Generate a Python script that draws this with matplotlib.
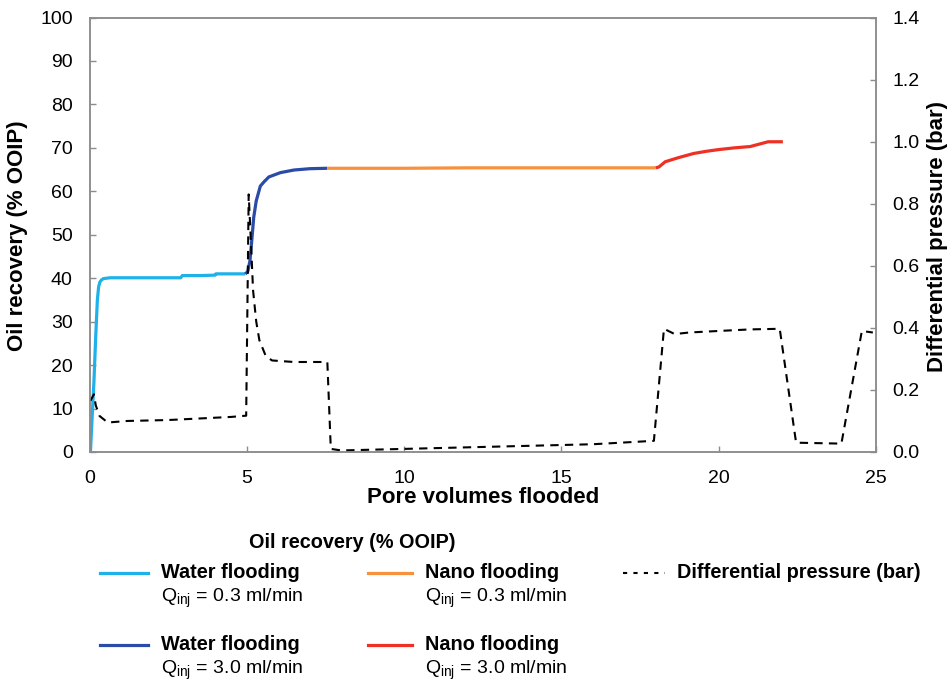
import matplotlib
matplotlib.use("Agg")
import matplotlib.pyplot as plt
from matplotlib.lines import Line2D
from matplotlib.ticker import FormatStrFormatter

plt.rcParams['font.family'] = ['Liberation Sans', 'DejaVu Sans']

# Oil recovery (% OOIP) by flooding stage
water_low_pv = [0.03, 0.08, 0.14, 0.20, 0.25, 0.29, 0.33, 0.38, 0.44, 0.65, 1.5, 2.5, 2.90, 2.95, 3.5, 3.99, 4.02, 4.5, 4.95]
water_low_rec = [0.0, 7.5, 16.0, 27.0, 35.0, 38.0, 39.1, 39.6, 39.9, 40.1, 40.1, 40.1, 40.1, 40.6, 40.6, 40.7, 41.0, 41.0, 41.0]

water_high_pv = [4.95, 5.03, 5.10, 5.15, 5.22, 5.30, 5.43, 5.55, 5.70, 6.07, 6.50, 7.00, 7.56]
water_high_rec = [41.0, 41.5, 44.0, 48.0, 54.0, 57.8, 61.2, 62.2, 63.3, 64.3, 64.9, 65.2, 65.3]

nano_low_pv = [7.56, 10.0, 12.0, 15.0, 18.0]
nano_low_rec = [65.3, 65.3, 65.4, 65.4, 65.4]

nano_high_pv = [18.0, 18.1, 18.3, 18.7, 19.2, 19.6, 20.0, 20.5, 21.0, 21.57, 22.04]
nano_high_rec = [65.4, 65.6, 66.8, 67.7, 68.7, 69.2, 69.6, 70.0, 70.3, 71.4, 71.4]

# Differential pressure (bar)
dp_pv = [0.03, 0.14, 0.20, 0.32, 0.58, 1.2, 2.5, 3.5, 4.5, 4.98, 5.06, 5.12, 5.20, 5.30,
         5.40, 5.60, 5.80, 6.50, 7.40, 7.56, 7.67, 8.0, 10.0, 12.0, 14.0, 16.0, 17.94,
         18.26, 18.60, 19.06, 20.0, 21.0, 21.94, 22.46, 23.90, 24.55, 24.90]
dp_bar = [0.165, 0.186, 0.150, 0.116, 0.095, 0.100, 0.103, 0.108, 0.113, 0.117, 0.830, 0.700, 0.520, 0.420,
          0.360, 0.310, 0.295, 0.290, 0.290, 0.290, 0.010, 0.005, 0.010, 0.015, 0.020, 0.025, 0.036,
          0.397, 0.380, 0.385, 0.390, 0.395, 0.397, 0.030, 0.027, 0.390, 0.385]

x_ticks = [0, 5, 10, 15, 20, 25]
rec_ticks = [0, 10, 20, 30, 40, 50, 60, 70, 80, 90, 100]
dp_ticks = [0.0, 0.2, 0.4, 0.6, 0.8, 1.0, 1.2, 1.4]

c_water_low = '#1FB1EA'
c_water_high = '#2A4BA6'
c_nano_low = '#F7913D'
c_nano_high = '#EE3124'
c_spine = '#8C8C8C'

W, H = 952, 687
fig = plt.figure(figsize=(W / 100, H / 100), dpi=100)
ax = fig.add_axes([89.5 / W, 1 - 452 / H, (876 - 89.5) / W, (452 - 17.5) / H])
ax2 = ax.twinx()

lw = 2.3
ax.plot(water_low_pv, water_low_rec, color=c_water_low, lw=lw, solid_capstyle='butt')
ax.plot(water_high_pv, water_high_rec, color=c_water_high, lw=lw, solid_capstyle='butt')
ax.plot(nano_low_pv, nano_low_rec, color=c_nano_low, lw=lw, solid_capstyle='butt')
ax.plot(nano_high_pv, nano_high_rec, color=c_nano_high, lw=lw, solid_capstyle='butt')
ax2.plot(dp_pv, dp_bar, color='black', lw=1.5, linestyle=(0, (4, 3)))

ax.set_xlim(0, 25)
ax.set_ylim(0, 100)
ax2.set_ylim(0, 1.4)
ax.set_xticks(x_ticks)
ax.set_yticks(rec_ticks)
ax2.set_yticks(dp_ticks)
ax2.yaxis.set_major_formatter(FormatStrFormatter('%.1f'))

for a in (ax, ax2):
    for s in a.spines.values():
        s.set_color(c_spine)
        s.set_linewidth(1.1)
ax.tick_params(axis='both', direction='in', length=4, width=1, color=c_spine,
               labelsize=14, pad=12)
ax.tick_params(axis='x', pad=13)
ax2.tick_params(axis='y', direction='in', length=4, width=1, color=c_spine,
                labelsize=14, pad=12)

ax.set_xlabel('Pore volumes flooded', fontsize=16, fontweight='bold', labelpad=0)


def fx(px):
    return px / W


def fy(py):
    return 1 - py / H


fig.text(fx(18), fy(236), 'Oil recovery (% OOIP)', fontsize=16, fontweight='bold',
         rotation=90, ha='center', va='center')
fig.text(fx(938), fy(236), 'Differential pressure (bar)', fontsize=16, fontweight='bold',
         rotation=90, ha='center', va='center')

legend_fs = 14.3
fig.text(fx(352), fy(543), 'Oil recovery (% OOIP)', fontsize=legend_fs, fontweight='bold',
         ha='center', va='center')

entries = [
    (100, 148, 573, c_water_low, 'Water flooding', '0.3'),
    (100, 148, 645, c_water_high, 'Water flooding', '3.0'),
    (368, 412, 573, c_nano_low, 'Nano flooding', '0.3'),
    (368, 412, 645, c_nano_high, 'Nano flooding', '3.0'),
]
for x0, x1, yy, col, name, q in entries:
    fig.add_artist(Line2D([fx(x0), fx(x1)], [fy(yy), fy(yy)], color=col, lw=2.3,
                          transform=fig.transFigure))
    tx = x1 + 13
    fig.text(fx(tx), fy(yy), name, fontsize=legend_fs, fontweight='bold', ha='left', va='center')
    fig.text(fx(tx), fy(yy + 25), r'Q$_{\mathregular{inj}}$ = ' + q + ' ml/min',
             fontsize=legend_fs - 0.3, ha='left', va='center')

fig.add_artist(Line2D([fx(623), fx(665)], [fy(573), fy(573)], color='black', lw=1.5,
                      linestyle=(0, (2, 3)), transform=fig.transFigure))
fig.text(fx(677), fy(573), 'Differential pressure (bar)', fontsize=legend_fs, fontweight='bold',
         ha='left', va='center')

fig.savefig('out.png', dpi=100)
